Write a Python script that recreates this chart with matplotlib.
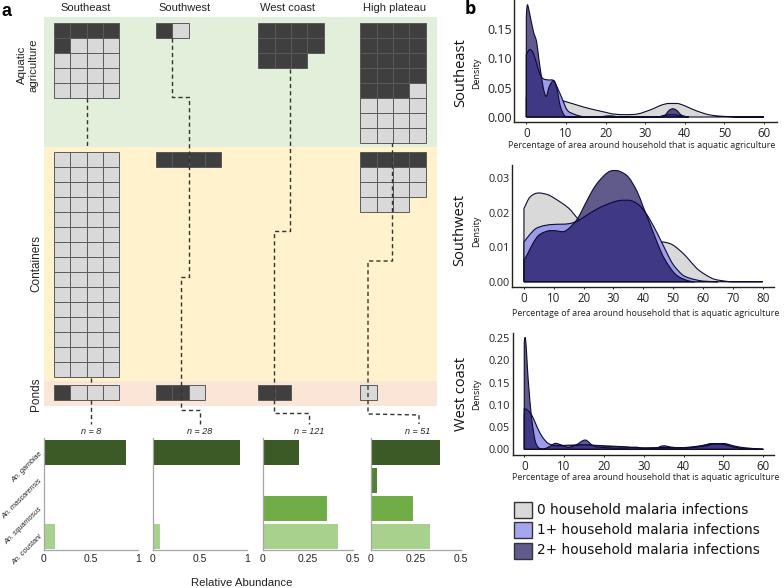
# Larval habitat waffles, species bars and household density panels

import matplotlib
matplotlib.use('Agg')
import matplotlib.pyplot as plt
from matplotlib.patches import Rectangle, PathPatch
from matplotlib.path import Path

W, H = 784, 588

# waffle counts (positive, negative) by habitat and region
regions = ['Southeast', 'Southwest', 'West coast', 'High plateau']
aquatic = [(5, 15), (1, 1), (11, 0), (19, 13)]
containers = [(0, 60), (4, 0), (0, 0), (4, 11)]
ponds = [(1, 3), (2, 1), (2, 0), (0, 1)]

# bars
species = ['An. gambiae', 'An. mascarensis', 'An. squamosus', 'An. coustani']
n_labels = ['n = 8', 'n = 28', 'n = 121', 'n = 51']
abundance = [
    [0.87, 0, 0, 0.125],
    [0.93, 0, 0, 0.07],
    [0.205, 0.007, 0.36, 0.42],
    [0.385, 0.036, 0.232, 0.326],
]

# density curves
se_x0 = [0, 2, 5, 8, 10, 12, 15, 18, 20, 22, 25, 28, 30, 32, 34, 36, 38, 40, 42, 44, 46, 48, 50, 55, 60]
se_y0 = [0.034, 0.035, 0.033, 0.030, 0.026, 0.022, 0.016, 0.011, 0.008, 0.005, 0.004, 0.005, 0.009,
         0.014, 0.020, 0.023, 0.023, 0.019, 0.013, 0.008, 0.004, 0.002, 0.001, 0, 0]
se_x1 = [0, 0.9, 1.8, 2.6, 3.5, 4.3, 5.6, 6.9, 7.7, 9, 10.3, 12, 14, 16, 18, 21, 24, 33, 35, 37, 39, 41]
se_y1 = [0.106, 0.115, 0.108, 0.091, 0.072, 0.065, 0.063, 0.062, 0.052, 0.032, 0.012, 0.005, 0.001,
         0, 0, 0.002, 0, 0, 0.003, 0.004, 0.002, 0]
se_x2 = [0, 0.25, 0.9, 1.8, 2.6, 3.2, 3.7, 4.3, 5, 5.8, 6.9, 7.7, 8.6, 9.7, 11, 33, 35, 36, 37, 38, 39, 40, 41]
se_y2 = [0.170, 0.191, 0.174, 0.145, 0.128, 0.097, 0.074, 0.049, 0.035, 0.052, 0.062, 0.049, 0.018,
         0.002, 0, 0, 0.003, 0.011, 0.014, 0.011, 0.004, 0.001, 0]

sw_x0 = [0, 2, 5, 8, 10, 15, 18, 20, 22, 25, 28, 30, 35, 40, 45, 48, 50, 53, 55, 58, 60, 63, 65, 70, 80]
sw_y0 = [0.0212, 0.0245, 0.0257, 0.0252, 0.0243, 0.0213, 0.0183, 0.0166, 0.0149, 0.0125, 0.0114, 0.0113,
         0.0116, 0.0116, 0.0116, 0.0113, 0.0106, 0.0085, 0.0067, 0.0038, 0.0025, 0.001, 0.0005, 0, 0]
sw_x1 = [0, 2, 4, 7, 10, 15, 18, 20, 25, 30, 33, 35, 38, 40, 42, 45, 48, 50, 53, 55, 58, 60, 65]
sw_y1 = [0.0115, 0.0137, 0.0154, 0.0163, 0.0166, 0.0168, 0.0176, 0.0187, 0.0213, 0.0231, 0.0236, 0.0236,
         0.0226, 0.0209, 0.0183, 0.0135, 0.0082, 0.005, 0.0021, 0.0012, 0.0005, 0.0002, 0]
sw_x2 = [0, 1, 3, 5, 8, 10, 13, 15, 18, 20, 23, 25, 28, 30, 32, 35, 38, 40, 42, 45, 47, 50, 52, 55, 57]
sw_y2 = [0.0063, 0.0077, 0.0111, 0.0135, 0.0147, 0.0148, 0.0145, 0.0154, 0.0183, 0.0216, 0.0265, 0.0290,
         0.0316, 0.0322, 0.032, 0.0303, 0.026, 0.0216, 0.0173, 0.0106, 0.0068, 0.0029, 0.0014, 0.0003, 0]

wc_x0 = [0, 1, 2, 3, 4, 5, 6, 8, 10, 15, 20, 25, 30, 35, 40, 45, 48, 50, 53, 55, 60]
wc_y0 = [0.080, 0.076, 0.067, 0.050, 0.033, 0.020, 0.012, 0.008, 0.009, 0.010, 0.008, 0.006, 0.003,
         0.004, 0.004, 0.009, 0.013, 0.013, 0.007, 0.004, 0]
wc_x1 = [0, 1, 2, 3, 4, 5, 6, 7, 8, 10, 13, 15, 18, 20, 25, 30, 35, 40, 45, 48, 50, 53, 55, 60]
wc_y1 = [0.092, 0.087, 0.075, 0.055, 0.036, 0.0225, 0.0135, 0.010, 0.008, 0.008, 0.009, 0.010, 0.008,
         0.007, 0.005, 0.003, 0.003, 0.004, 0.007, 0.012, 0.011, 0.005, 0.002, 0]
wc_x2 = [0, 0.2, 1, 1.8, 2.7, 3.5, 4.8, 6.5, 7.8, 9.3, 11, 13, 15.3, 17, 18, 19, 20, 25, 28, 30, 33, 35,
         37, 40, 43, 45, 47, 50, 52, 55, 60]
wc_y2 = [0.240, 0.252, 0.156, 0.074, 0.021, 0.0045, 0.001, 0.007, 0.0135, 0.010, 0.0045, 0.010, 0.021,
         0.010, 0.006, 0.005, 0.004, 0.003, 0.005, 0.002, 0.003, 0.008, 0.005, 0.003, 0.005, 0.009,
         0.013, 0.013, 0.007, 0.002, 0]

legend_labels = ['0 household malaria infections', '1+ household malaria infections',
                 '2+ household malaria infections']

DARK, LIGHT = '#3f3f3f', '#d9d9d9'
BAR_COLORS = ['#3b5a25', '#548235', '#70ad47', '#a9d18e']
SANS = 'Liberation Sans'
SOFT = 'Open Sans'


def px_axes(fig, left, top, right, bottom):
    """axes placed by pixel box, y measured from the top of the image"""
    return fig.add_axes([left / W, 1 - bottom / H, (right - left) / W, (bottom - top) / H])


def waffle(ax, x0, y0, counts):
    dark, light = counts
    cw, ch = 16.3, 15.05
    for i in range(dark + light):
        col, row = i % 4, i // 4
        face = DARK if i < dark else LIGHT
        ax.add_patch(Rectangle((x0 + col * cw, y0 + row * ch), cw, ch, facecolor=face,
                               edgecolor='#5a5a5a', linewidth=0.7, zorder=3))


def curve_path(x, y):
    """closed bezier outline through the read points, down to the baseline"""
    n = len(x)
    verts = [(x[0], 0), (x[0], y[0])]
    codes = [Path.MOVETO, Path.LINETO]
    for i in range(n - 1):
        a, b = max(i - 1, 0), min(i + 2, n - 1)
        h = x[i + 1] - x[i]
        # slopes at both ends of the segment, flattened at local extremes
        s0 = (y[i + 1] - y[a]) / (x[i + 1] - x[a])
        s1 = (y[b] - y[i]) / (x[b] - x[i])
        if i > 0 and (y[i] - y[i - 1]) * (y[i + 1] - y[i]) <= 0:
            s0 = 0
        if i < n - 2 and (y[i + 1] - y[i]) * (y[i + 2] - y[i + 1]) <= 0:
            s1 = 0
        verts += [(x[i] + h / 3, max(y[i] + s0 * h / 3, 0)),
                  (x[i + 1] - h / 3, max(y[i + 1] - s1 * h / 3, 0)),
                  (x[i + 1], y[i + 1])]
        codes += [Path.CURVE4] * 3
    verts += [(x[-1], 0), (x[0], 0)]
    codes += [Path.LINETO, Path.LINETO]
    return Path(verts, codes)


def density(ax, xs, ys, xlim, ylim, xticks, yticks, ysize):
    colors = [('#d9d9d9', 1), ('#9c9ce8', 1), ('#0d034e', 0.65)]
    for x, y, (c, a) in zip(xs, ys, colors):
        path = curve_path(x, y)
        ax.add_patch(PathPatch(path, facecolor=c, alpha=a, linewidth=0))
        ax.add_patch(PathPatch(path, facecolor='none', edgecolor='#0c0c30', linewidth=0.8))
    ax.set_xlim(*xlim)
    ax.set_ylim(*ylim)
    ax.set_xticks(xticks)
    ax.set_yticks(yticks)
    ax.set_yticklabels(['%.2f' % t for t in yticks])
    for s in ['top', 'right']:
        ax.spines[s].set_visible(False)
    for s in ['left', 'bottom']:
        ax.spines[s].set_linewidth(1.0)
        ax.spines[s].set_color('#222222')
    ax.tick_params(axis='x', labelsize=8.3, length=1.5, width=0.7, pad=2, colors='#222222')
    ax.tick_params(axis='y', labelsize=ysize, length=0, pad=2, colors='#222222')
    for t in ax.get_xticklabels() + ax.get_yticklabels():
        t.set_family(SOFT)
    ax.patch.set_alpha(0)


fig = plt.figure(figsize=(W / 100, H / 100), dpi=100)

# pixel overlay for panel a and all the loose text
bg = fig.add_axes([0, 0, 1, 1])
bg.set_xlim(0, W)
bg.set_ylim(H, 0)
bg.axis('off')

bg.add_patch(Rectangle((44, 17), 393, 130, facecolor='#e2efda', linewidth=0))
bg.add_patch(Rectangle((44, 147), 393, 234, facecolor='#fff2cc', linewidth=0))
bg.add_patch(Rectangle((44, 381), 393, 25, facecolor='#fbe5d6', linewidth=0))

col_x = [54, 156, 258.5, 360.5]
col_mid = [85.5, 185, 287.5, 395]
for i, name in enumerate(regions):
    waffle(bg, col_x[i], 23, aquatic[i])
    waffle(bg, col_x[i], 151.5, containers[i])
    waffle(bg, col_x[i], 385.3, ponds[i])
    bg.text(col_mid[i], 8, name, ha='center', va='center', fontsize=8, family=SANS, color='#222222')

# dashed links between the waffles and the bars
links = [
    [(87, 98), (87, 148)],
    [(91, 378), (91, 385)],
    [(91, 400), (91, 424)],
    [(172, 38), (172, 97), (189, 97), (189, 277), (181, 277), (181, 410), (200, 410), (200, 424)],
    [(290.5, 69), (290.5, 231), (274, 231), (274, 413), (309, 413), (309, 424)],
    [(392.5, 143), (392.5, 261), (368, 261), (368, 414), (419, 415), (419, 424)],
]
for link in links:
    bg.plot([p[0] for p in link], [p[1] for p in link], color='#333333', lw=1.0,
            linestyle=(0, (3, 2.2)), zorder=4)

bg.text(1, 12, 'a', fontsize=13, fontweight='bold', family=SANS, ha='left', va='center')
bg.text(470, 9, 'b', fontsize=13, fontweight='bold', family=SOFT, ha='center', va='center')
bg.text(28, 65, 'Aquatic\nagriculture', rotation=90, ha='center', va='center', fontsize=8.2,
        family=SANS, color='#222222', linespacing=1.2)
bg.text(36, 264, 'Containers', rotation=90, ha='center', va='center', fontsize=8.5, family=SANS,
        color='#222222')
bg.text(36, 394, 'Ponds', rotation=90, ha='center', va='center', fontsize=8.5, family=SANS,
        color='#222222')
bg.text(242, 583, 'Relative Abundance', ha='center', va='center', fontsize=8.2, family=SANS,
        color='#222222')

# species bars
bar_boxes = [(43.5, 138), (153, 247), (262.5, 352.5), (371, 461)]
bar_lims = [1, 1, 0.5, 0.5]
bar_ticks = [[0, 0.5, 1], [0, 0.5, 1], [0, 0.25, 0.5], [0, 0.25, 0.5]]
bar_ticklabels = [['0', '0.5', '1'], ['0', '0.5', '1'], ['0', '0.25', '0.5'], ['0', '0.25', '0.5']]
for i in range(4):
    ax = px_axes(fig, bar_boxes[i][0], 438, bar_boxes[i][1], 550)
    ax.barh(range(4), abundance[i], height=0.9, color=BAR_COLORS)
    ax.set_xlim(0, bar_lims[i])
    ax.set_ylim(3.5, -0.52)
    ax.set_xticks(bar_ticks[i])
    ax.set_xticklabels(bar_ticklabels[i], family=SANS, fontsize=7.5, color='#222222')
    ax.tick_params(length=0, pad=3)
    ax.set_yticks([])
    for s in ['top', 'right']:
        ax.spines[s].set_visible(False)
    for s in ['left', 'bottom']:
        ax.spines[s].set_color('#a6a6a6')
        ax.spines[s].set_linewidth(0.9)
    ax.patch.set_alpha(0)
    if i == 0:
        ax.set_yticks(range(4))
        ax.set_yticklabels(species, rotation=45, ha='right', va='center', rotation_mode='anchor',
                           family=SANS, fontsize=5.2, style='italic', color='#222222')
        ax.tick_params(axis='y', pad=1.5)
    bg.text([91, 200, 309, 418][i], 432, n_labels[i], ha='center', va='center', fontsize=6.5,
            family=SANS, style='italic', color='#222222')

# density panels
ax = px_axes(fig, 514.3, 0, 776.7, 122)
density(ax, [se_x0, se_x1, se_x2], [se_y0, se_y1, se_y2], (-3.03, 63.2), (-0.0085, 0.199),
        range(0, 61, 10), [0, 0.05, 0.10, 0.15], 9)

ax = px_axes(fig, 512.3, 165, 774, 287.3)
density(ax, [sw_x0, sw_x1, sw_x2], [sw_y0, sw_y1, sw_y2], (-3.9, 83.8), (-0.0016, 0.0338),
        range(0, 81, 10), [0, 0.01, 0.02, 0.03], 7.8)

ax = px_axes(fig, 512.7, 332.7, 774, 454.7)
density(ax, [wc_x0, wc_x1, wc_x2], [wc_y0, wc_y1, wc_y2], (-2.9, 62.7), (-0.012, 0.2625),
        range(0, 61, 10), [0, 0.05, 0.10, 0.15, 0.20, 0.25], 7.8)

for name, ry, rx, dy, lx, ly in [('Southeast', 73, 461, 73, 642, 145),
                                 ('Southwest', 230, 460, 231, 645.5, 313),
                                 ('West coast', 394, 461.5, 394, 645.5, 478)]:
    bg.text(rx, ry, name, rotation=90, ha='center', va='center', fontsize=10.5, family=SOFT,
            color='#111111')
    bg.text(477, dy, 'Density', rotation=90, ha='center', va='center', fontsize=6.5, family=SOFT,
            color='#111111')
    bg.text(lx, ly, 'Percentage of area around household that is aquatic agriculture', ha='center',
            va='center', fontsize=6.45, family=SOFT, color='#222222')

# legend
legend_faces = ['#d9d9d9', '#a6a6ee', '#5f5b8c']
legend_y = [502, 522, 542.5]
for face, y, label in zip(legend_faces, legend_y, legend_labels):
    bg.add_patch(Rectangle((514.5, y), 18, 16, facecolor=face, edgecolor='#333333', linewidth=1.0))
    bg.text(537.5, y + 8, label, ha='left', va='center', fontsize=9.8, family='DejaVu Sans',
            color='#111111')

fig.savefig('out.png', dpi=100)
